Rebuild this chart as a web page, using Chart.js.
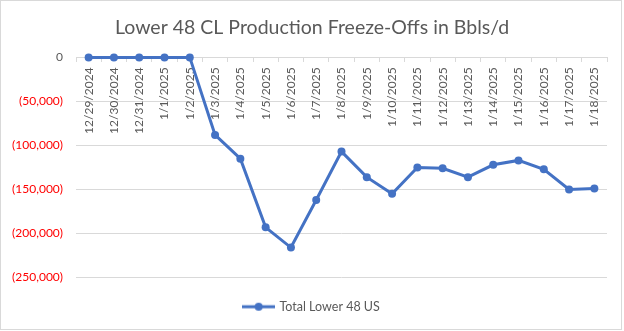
<!DOCTYPE html>
<html>
<head>
<meta charset="utf-8">
<script src="https://cdn.jsdelivr.net/npm/chart.js@4/dist/chart.umd.min.js"></script>
<style>
  html, body { margin: 0; padding: 0; background: #ffffff; }
  #wrap { width: 624px; height: 331px; position: relative; }
</style>
</head>
<body>
<div id="wrap"><canvas id="c" width="624" height="331"></canvas></div>
<script>
// Daily freeze-off volumes (barrels per day, negative = lost production)
const dates = [
  '12/29/2024', '12/30/2024', '12/31/2024', '1/1/2025', '1/2/2025', '1/3/2025',
  '1/4/2025', '1/5/2025', '1/6/2025', '1/7/2025', '1/8/2025', '1/9/2025',
  '1/10/2025', '1/11/2025', '1/12/2025', '1/13/2025', '1/14/2025', '1/15/2025',
  '1/16/2025', '1/17/2025', '1/18/2025'
];
const totalLower48 = [
  0, 0, 0, 0, 0, -88000,
  -115000, -193000, -216000, -162000, -107000, -136000,
  -155000, -125000, -126000, -136000, -122000, -117000,
  -127000, -150000, -149000
];
const yTicks = [0, -50000, -100000, -150000, -200000, -250000];

const BLUE = '#4472C4';
const GRID = '#d9d9d9';
const TEXT = '#595959';
const FONT = 'Lato, "Open Sans", sans-serif';

// Legend swatch: short line with a dot in the middle
const swatch = document.createElement('canvas');
swatch.width = 33; swatch.height = 10;
(function () {
  const g = swatch.getContext('2d');
  g.strokeStyle = BLUE; g.lineWidth = 3;
  g.beginPath(); g.moveTo(0, 5); g.lineTo(33, 5); g.stroke();
  g.fillStyle = BLUE;
  g.beginPath(); g.arc(16.5, 5, 4, 0, Math.PI * 2); g.fill();
})();

// Thin outline around the whole chart
const frame = {
  id: 'frame',
  afterDraw(chart) {
    const ctx = chart.ctx;
    ctx.save();
    ctx.strokeStyle = GRID;
    ctx.lineWidth = 1;
    ctx.strokeRect(0.5, 0.5, 621, 329);
    ctx.restore();
  }
};

function fmt(v) {
  if (v === 0) return '0';
  const s = Math.abs(v).toLocaleString('en-US');
  return v < 0 ? '(' + s + ')' : s;
}

new Chart(document.getElementById('c'), {
  type: 'line',
  data: {
    labels: dates,
    datasets: [{
      label: 'Total Lower 48 US',
      data: totalLower48,
      borderColor: BLUE,
      backgroundColor: BLUE,
      borderWidth: 3,
      pointRadius: 4,
      pointBackgroundColor: BLUE,
      pointBorderColor: BLUE,
      pointBorderWidth: 0,
      tension: 0,
      clip: false
    }]
  },
  options: {
    responsive: false,
    animation: false,
    events: [],
    layout: { padding: { left: 0, right: 0, top: 0, bottom: 8 } },
    plugins: {
      title: {
        display: true,
        text: 'Lower 48 CL Production Freeze-Offs in Bbls/d',
        color: TEXT,
        font: { family: FONT, size: 19.5, weight: 'normal' },
        padding: { top: 16, bottom: 18 }
      },
      legend: {
        position: 'bottom',
        title: {
          display: true,
          text: '',
          font: { size: 1, lineHeight: 1 },
          padding: { top: 0, bottom: 12 }
        },
        labels: {
          color: TEXT,
          font: { family: FONT, size: 12.5 },
          usePointStyle: true,
          pointStyleWidth: 29,
          padding: 10,
          generateLabels(chart) {
            const ds = chart.data.datasets[0];
            return [{
              text: ds.label,
              pointStyle: swatch,
              fillStyle: BLUE,
              strokeStyle: BLUE,
              lineWidth: 0,
              fontColor: TEXT,
              datasetIndex: 0
            }];
          }
        }
      },
      tooltip: { enabled: false }
    },
    scales: {
      x: {
        type: 'category',
        position: { y: 0 },
        offset: true,
        grid: {
          offset: true,
          drawOnChartArea: false,
          drawTicks: true,
          tickLength: 4,
          color: GRID
        },
        border: { display: true, color: GRID, width: 1 },
        ticks: {
          color: TEXT,
          font: { family: FONT, size: 12 },
          minRotation: 90,
          maxRotation: 90,
          autoSkip: false,
          padding: 6
        }
      },
      y: {
        min: -250000,
        max: 0,
        afterFit(scale) { scale.width = 76; },
        afterBuildTicks(scale) { scale.ticks = yTicks.map(v => ({ value: v })); },
        grid: { color: GRID, drawTicks: false },
        border: { display: false },
        ticks: {
          padding: 13,
          font: { family: FONT, size: 12 },
          color: ctx => (ctx.tick && ctx.tick.value < 0 ? '#FF0000' : TEXT),
          callback: v => fmt(v)
        }
      },
      // empty right-hand margin so the plot ends short of the frame
      yRight: {
        position: 'right',
        display: true,
        grid: { display: false },
        border: { display: false },
        ticks: { display: false },
        afterFit(scale) { scale.width = 17; }
      }
    }
  },
  plugins: [frame]
});
</script>
</body>
</html>
